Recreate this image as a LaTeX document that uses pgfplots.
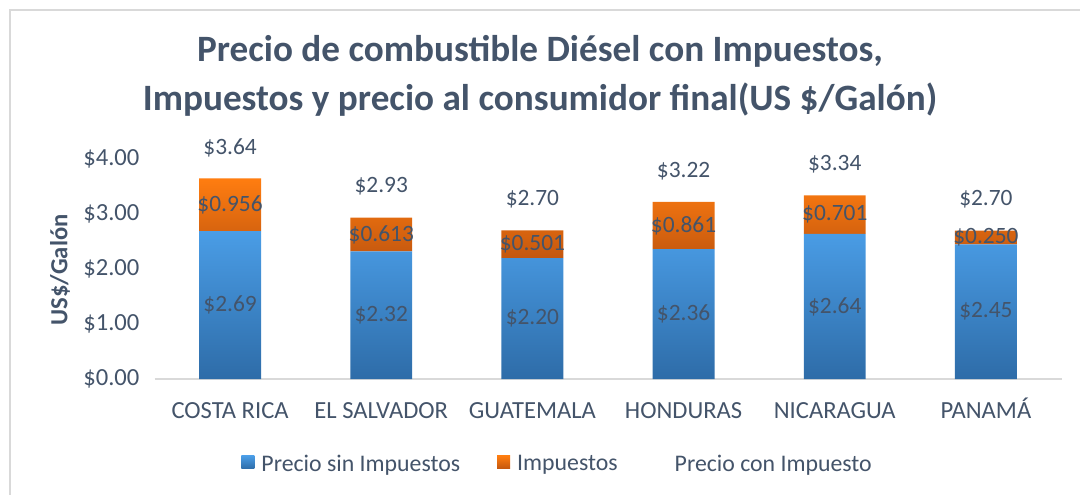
\documentclass[border=0pt]{standalone}
\usepackage{pgfplots}
\pgfplotsset{compat=1.18}
\usepackage{fontspec}
\setmainfont{Carlito}
\definecolor{txt}{HTML}{44546A}
\definecolor{frame}{HTML}{D9D9D9}
\definecolor{blueT}{HTML}{4A9DE6}
\definecolor{blueB}{HTML}{2E6CA8}
\definecolor{orT}{HTML}{FF7D10}
\definecolor{orB}{HTML}{C3570F}
\begin{document}
\begin{tikzpicture}
\useasboundingbox (0,0) rectangle (540pt,247pt);
\draw[color=frame, line width=0.9pt] (5pt,-3pt) rectangle (543pt,242pt);
\node[font=\fontsize{18.6}{24.5}\selectfont\bfseries, color=txt, align=center] at (270pt,209pt)
  {Precio de combustible Diésel con Impuestos,\\Impuestos y precio al consumidor final(US \$/Galón)};
\node[rotate=90, font=\fontsize{12.3}{14}\selectfont\bfseries, color=txt] at (30pt,112pt) {US\$/Galón};
\begin{axis}[
  at={(77.25pt,57.5pt)}, anchor=south west,
  width=453.5pt, height=110pt, scale only axis,
  ybar stacked, bar width=0.41,
  xmin=-0.5, xmax=5.5, ymin=0, ymax=4,
  ytick={0,1,2,3,4},
  xtick={0,1,2,3,4,5},
  xticklabels={COSTA RICA, EL SALVADOR, GUATEMALA, HONDURAS, NICARAGUA, PANAMÁ},
  major tick length=0pt,
  axis x line*=bottom, axis y line*=left,
  x axis line style={draw=frame, line width=0.9pt, -},
  y axis line style={draw=none},
  tick label style={color=txt, font=\fontsize{12.3}{14}\selectfont},
  yticklabel style={xshift=-4pt, /pgf/number format/fixed, /pgf/number format/fixed zerofill, /pgf/number format/precision=2, /pgf/number format/assume math mode=true},
  yticklabel={\$\pgfmathprintnumber{\tick}},
  xticklabel style={yshift=-7pt, text height=9pt, text depth=2.5pt},
  clip=false,
  legend columns=3,
  legend style={draw=none, at={(0.445,-0.39)}, anchor=center,
     font=\fontsize{11.9}{14}\selectfont, text=txt,
     /tikz/every even column/.append style={column sep=17pt},
     nodes={inner sep=1.5pt}},
  legend image code/.code={\path[#1] (0pt,-2pt) rectangle (6.5pt,4.5pt);},
]
\addplot[draw=none, top color=blueT, bottom color=blueB] coordinates {(0,2.69) (1,2.32) (2,2.20) (3,2.36) (4,2.64) (5,2.45)};
\addlegendentry{\hspace{2pt}Precio sin Impuestos}
\addplot[draw=none, top color=orT, bottom color=orB] coordinates {(0,0.956) (1,0.613) (2,0.501) (3,0.861) (4,0.701) (5,0.250)};
\addlegendentry{\hspace{2pt}Impuestos}
\addlegendimage{draw=none, fill=none}
\addlegendentry{\hspace{2pt}Precio con Impuesto}
\end{axis}
\begin{axis}[
  at={(77.25pt,57.5pt)}, anchor=south west,
  width=453.5pt, height=110pt, scale only axis,
  xmin=-0.5, xmax=5.5, ymin=0, ymax=4,
  hide axis, clip=false,
  nodes near coords, point meta=explicit symbolic,
  every node near coord/.style={anchor=center, color=txt, font=\fontsize{11.7}{14}\selectfont, inner sep=0pt},
]
\addplot[draw=none, mark=none] coordinates {(0,1.345)[\$2.69] (1,1.16)[\$2.32] (2,1.10)[\$2.20] (3,1.18)[\$2.36] (4,1.32)[\$2.64] (5,1.225)[\$2.45]};
\addplot[draw=none, mark=none] coordinates {(0,3.168)[\$0.956] (1,2.6265)[\$0.613] (2,2.4505)[\$0.501] (3,2.7905)[\$0.861] (4,2.9905)[\$0.701] (5,2.575)[\$0.250]};
\addplot[draw=none, mark=none] coordinates {(0,4.21)[\$3.64] (1,3.497)[\$2.93] (2,3.265)[\$2.70] (3,3.785)[\$3.22] (4,3.905)[\$3.34] (5,3.265)[\$2.70]};
\end{axis}
\end{tikzpicture}
\end{document}
